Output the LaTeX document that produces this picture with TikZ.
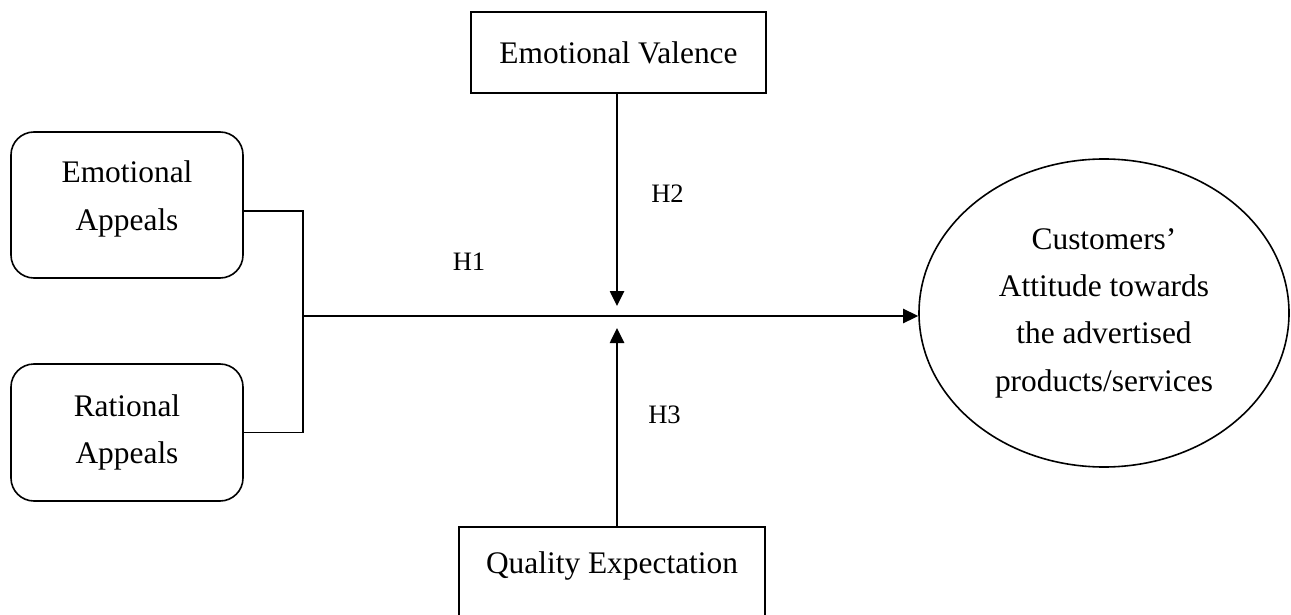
\documentclass[tikz,border=0pt]{standalone}
\usepackage{fontspec}
\setmainfont{Liberation Serif}
\usetikzlibrary{shapes.geometric,arrows.meta}
\begin{document}
\begin{tikzpicture}[x=0.5pt,y=-0.5pt,
  every node/.style={font=\fontsize{15.7}{23.65}\selectfont, align=center},
  roundbox/.style={draw, line width=0.8pt, rounded corners=11.5pt, minimum width=116pt, inner sep=0pt},
  sqbox/.style={draw, line width=0.8pt, inner sep=0pt},
  oval/.style={draw, ellipse, line width=0.8pt, inner sep=0pt, minimum width=185pt, minimum height=154pt},
  conn/.style={line width=0.8pt},
  arr/.style={line width=1.3pt, -{Triangle[length=7.5pt,width=7pt]}},
  lab/.style={font=\fontsize{13.3}{16}\selectfont, anchor=base, inner sep=0pt}]
\useasboundingbox (0,0) rectangle (1291,615);
\begin{scope}
\clip (0,0) rectangle (1291,615);
\node[roundbox, minimum height=73pt, text depth=9.4pt] (ea) at (127,205) {Emotional\\Appeals};
\node[roundbox, minimum height=68.5pt] (ra) at (127,432.5) {Rational\\Appeals};
\node[sqbox, minimum width=147.5pt, minimum height=40.5pt] (ev) at (618.5,52.5) {Emotional Valence};
\node[sqbox, minimum width=153pt, minimum height=53pt, text height=10.7pt, text depth=17.7pt] (qe) at (612,580) {Quality Expectation};
\node[oval] (att) at (1104,313) {Customers'\\Attitude towards\\the advertised\\products/services};
\coordinate (j) at (303,316);
\coordinate (mt) at (617,306);
\coordinate (mb) at (617,328);
\draw[conn] ([yshift=-3pt]ea.east) -| (j);
\draw[conn] (ra.east) -| (j);
\draw[arr] (j) -- (j -| att.west);
\draw[arr] (ev.south -| mt) -- (mt);
\draw[arr] (qe.north -| mb) -- (mb);
\node[lab] (h1) at (469,270) {H1};
\node[lab] (h2) at (667.5,202) {H2};
\node[lab] (h3) at (664.5,423) {H3};
\end{scope}
\end{tikzpicture}
\end{document}
